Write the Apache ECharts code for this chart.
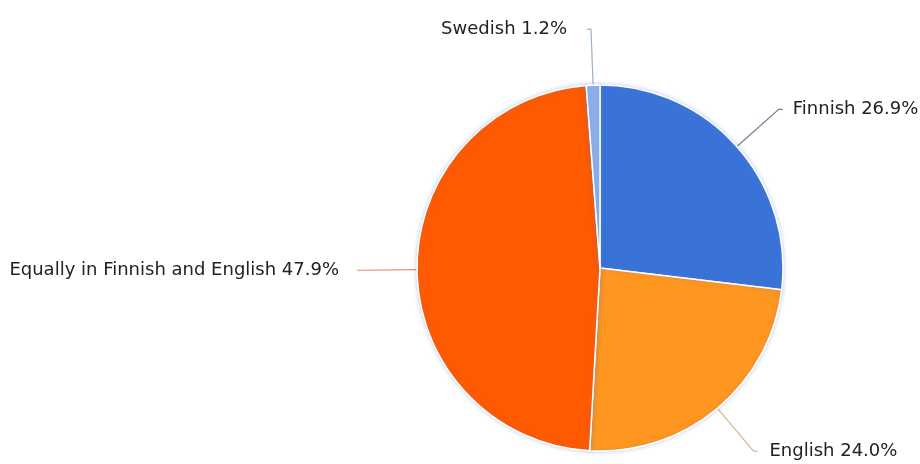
<!DOCTYPE html>
<html>
<head>
<meta charset="utf-8">
<script src="https://cdn.jsdelivr.net/npm/echarts@6/dist/echarts.min.js"></script>
<style>
  html, body { margin: 0; padding: 0; background: #fff; }
  #chart { width: 920px; height: 464px; }
</style>
</head>
<body>
<div id="chart"></div>
<script>
// Answer shares, clockwise from 12 o'clock
const categories = ['Finnish', 'English', 'Equally in Finnish and English', 'Swedish'];
const shares = [26.9, 24.0, 47.9, 1.2];
const sliceColors = ['#3a73d8', '#ff961f', '#ff5a00', '#8cb0ea'];
const leaderColors = ['#6c7f9e', '#d2b98e', '#e8896a', '#9fb2cc'];
// gap between leader line end and label text
const labelGaps = [10, 12, 18, 20];

const chart = echarts.init(document.getElementById('chart'));
chart.setOption({
  animation: false,
  backgroundColor: '#ffffff',
  series: [{
    type: 'pie',
    center: [600, 268],
    radius: 183,
    startAngle: 90,
    clockwise: true,
    avoidLabelOverlap: false,
    itemStyle: {
      borderColor: '#ffffff',
      borderWidth: 1.5,
      shadowBlur: 4,
      shadowColor: 'rgba(90,130,200,0.35)'
    },
    label: {
      show: true,
      color: '#222222',
      fontFamily: 'DejaVu Sans',
      fontSize: 18,
      formatter: p => p.name + ' ' + p.value.toFixed(1) + '%'
    },
    labelLine: {
      show: true,
      length: 56,
      length2: 4,
      smooth: false,
      lineStyle: { width: 1.2 }
    },
    data: categories.map((name, i) => ({
      name: name,
      value: shares[i],
      itemStyle: { color: sliceColors[i] },
      label: { distanceToLabelLine: labelGaps[i] },
      labelLine: { lineStyle: { color: leaderColors[i] } }
    }))
  }]
});
</script>
</body>
</html>
